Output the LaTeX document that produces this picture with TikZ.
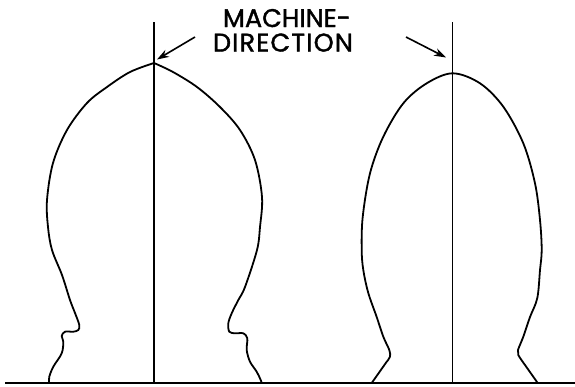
\documentclass[tikz,border=0pt]{standalone}
\usepackage{fontspec}
\setmainfont{Poppins}[FakeBold=1.5]
\usetikzlibrary{arrows.meta}
\begin{document}
\begin{tikzpicture}[x=1pt,y=-1pt,
  outline/.style={line width=1.8pt,line join=round,line cap=round},
  axisline/.style={line width=1.3pt},
  groundline/.style={line width=1.9pt},
  pointer/.style={line width=1.6pt,-{Stealth[length=12pt,width=8pt]}},
  lbl/.style={inner sep=0pt,anchor=base east,font=\fontsize{25.5}{25.5}\selectfont}]
\useasboundingbox (0,0) rectangle (575,386);
\fill[white] (0,0) rectangle (575,386);
% ground line
\coordinate (g1) at (5,383);
\coordinate (g2) at (575,383);
\draw[groundline] (g1) -- (g2);
% axes
\coordinate (at1) at (154,22);
\coordinate (ab1) at (154,383);
\coordinate (at2) at (452.7,22);
\coordinate (ab2) at (452.7,383);
\draw[axisline] (at1) -- (ab1);
\draw[axisline] (at2) -- (ab2);
% left shape
\draw[outline] plot[smooth,tension=0.55] coordinates {
 (154,63) (130,72) (107,87) (87,103) (67,130) (53,163) (47,200) (48,227)
 (52,250) (62,275) (70,300) (75,313) (79.3,325) (78.3,330) (73.3,331.7)
 (65,331.7) (61.7,336) (63.3,341.7) (61.7,353.3) (53.3,366.7) (49.3,376.7) (49,383)};
\draw[outline] plot[smooth,tension=0.55] coordinates {
 (154,63) (173,72) (197,87) (220,107) (240,130) (255,160) (262,197) (260,227)
 (257,250) (245,287) (238.3,300) (231.7,313.3) (228.3,323.3) (229.3,331.7)
 (235,333.3) (243.3,333.3) (247.3,338.3) (246.7,350) (250,361.7) (256.7,371.7)
 (260.7,380) (261.7,383)};
% right shape
\draw[outline] (371.7,383) -- (386.7,361.7)
 plot[smooth,tension=0.55] coordinates {
 (386.7,361.7) (390,356.7) (389.3,350) (383.3,336.7) (376.7,317) (368.3,293)
 (363.3,270) (361.7,250) (362.7,217) (370,173.3) (383.3,136.7) (403.3,103.3)
 (426.7,83.3) (452.7,73.3) (480,83.3) (503.3,106.7) (523.3,143.3) (535,183.3)
 (540,220) (541.7,250) (540,270) (537.3,298) (530,317) (523.3,336.7) (518,350)
 (518.3,355) (525,365)} -- (537.7,383);
% label
\node[lbl] (t1) at (351,27) {MACHINE-};
\node[lbl] (t2) at (353,51.5) {\addfontfeature{LetterSpace=4.5}DIRECTION};
% pointers
\coordinate (p1s) at (195,37);
\coordinate (p1e) at (157,59.5);
\coordinate (p2s) at (406,37);
\coordinate (p2e) at (446,57.5);
\draw[pointer] (p1s) -- (p1e);
\draw[pointer] (p2s) -- (p2e);
\end{tikzpicture}
\end{document}
